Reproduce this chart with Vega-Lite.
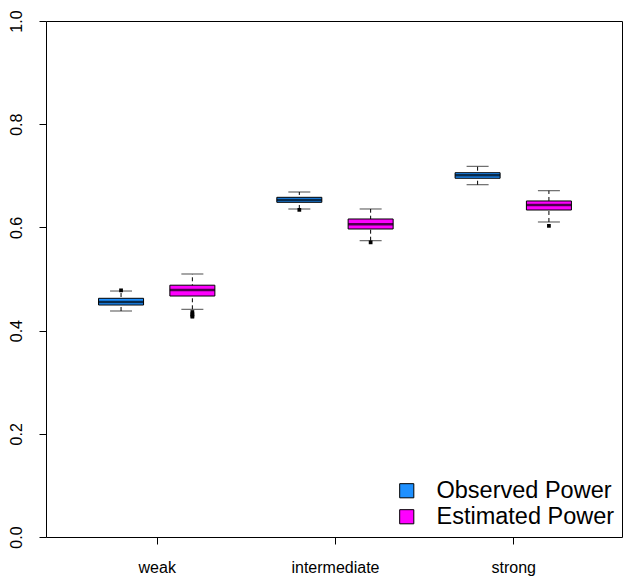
{
  "$schema": "https://vega.github.io/schema/vega-lite/v6.json",
  "width": 576,
  "height": 516,
  "autosize": "none",
  "padding": {"left": 46, "top": 21, "right": 1, "bottom": 40},
  "background": "white",
  "config": {
    "view": {"stroke": "black", "strokeWidth": 1},
    "font": "Liberation Sans",
    "axis": {"grid": false, "domainColor": "black", "tickColor": "black", "labelColor": "black", "labelFont": "Liberation Sans", "title": null}
  },
  "datasets": {
    "boxes": [
      {"group": "weak", "pos": 0.8, "series": "Observed Power", "lo": 0.438, "q1": 0.4496, "med": 0.4554, "q3": 0.4626, "hi": 0.4767},
      {"group": "weak", "pos": 1.2, "series": "Estimated Power", "lo": 0.4413, "q1": 0.467, "med": 0.4787, "q3": 0.488, "hi": 0.5097},
      {"group": "intermediate", "pos": 1.8, "series": "Observed Power", "lo": 0.6357, "q1": 0.6486, "med": 0.6531, "q3": 0.6583, "hi": 0.6686},
      {"group": "intermediate", "pos": 2.2, "series": "Estimated Power", "lo": 0.5742, "q1": 0.5969, "med": 0.606, "q3": 0.6163, "hi": 0.6357},
      {"group": "strong", "pos": 2.8, "series": "Observed Power", "lo": 0.6827, "q1": 0.6952, "med": 0.701, "q3": 0.706, "hi": 0.7184},
      {"group": "strong", "pos": 3.2, "series": "Estimated Power", "lo": 0.6105, "q1": 0.6337, "med": 0.6434, "q3": 0.6512, "hi": 0.6711}
    ],
    "outliers": [
      {"pos": 0.8, "value": 0.478},
      {"pos": 1.2, "value": 0.436},
      {"pos": 1.2, "value": 0.432},
      {"pos": 1.2, "value": 0.429},
      {"pos": 1.2, "value": 0.427},
      {"pos": 1.8, "value": 0.634},
      {"pos": 2.2, "value": 0.571},
      {"pos": 3.2, "value": 0.603}
    ]
  },
  "layer": [
    {
      "data": {"name": "boxes"},
      "mark": {"type": "rule", "color": "black", "strokeWidth": 1, "strokeDash": [4, 3]},
      "encoding": {
        "x": {"field": "pos", "type": "quantitative", "scale": {"domain": [0.379, 3.61], "nice": false, "zero": false, "padding": 0},
              "axis": {"values": [1, 2, 3], "labelExpr": "datum.value == 1 ? 'weak' : datum.value == 2 ? 'intermediate' : 'strong'", "tickSize": 7, "labelFontSize": 16, "labelPadding": 15, "domain": false}},
        "y": {"field": "lo", "type": "quantitative", "scale": {"domain": [0, 1], "nice": false, "zero": false, "padding": 0},
              "axis": {"values": [0, 0.2, 0.4, 0.6, 0.8, 1], "format": ".1f", "labelAngle": -90, "tickSize": 7, "labelFontSize": 16, "labelPadding": 15, "domain": false}},
        "y2": {"field": "hi"}
      }
    },
    {
      "data": {"name": "boxes"},
      "mark": {"type": "tick", "orient": "horizontal", "color": "black", "size": 22, "thickness": 1},
      "encoding": {
        "x": {"field": "pos", "type": "quantitative"},
        "y": {"field": "hi", "type": "quantitative"}
      }
    },
    {
      "data": {"name": "boxes"},
      "mark": {"type": "tick", "orient": "horizontal", "color": "black", "size": 22, "thickness": 1},
      "encoding": {
        "x": {"field": "pos", "type": "quantitative"},
        "y": {"field": "lo", "type": "quantitative"}
      }
    },
    {
      "data": {"name": "boxes"},
      "mark": {"type": "bar", "size": 45, "stroke": "black", "strokeWidth": 1},
      "encoding": {
        "x": {"field": "pos", "type": "quantitative"},
        "y": {"field": "q1", "type": "quantitative"},
        "y2": {"field": "q3"},
        "color": {"field": "series", "type": "nominal",
                  "scale": {"domain": ["Observed Power", "Estimated Power"], "range": ["#1E90FF", "#FF00FF"]},
                  "legend": {"title": null, "orient": "none", "legendX": 349, "legendY": 458, "symbolType": "square", "symbolSize": 200, "symbolStrokeColor": "black", "symbolStrokeWidth": 1, "symbolOpacity": 1, "labelFontSize": 23.5, "labelFont": "Liberation Sans", "labelColor": "black", "labelOffset": 18, "labelLimit": 0, "rowPadding": 1, "padding": 0}}
      }
    },
    {
      "data": {"name": "boxes"},
      "mark": {"type": "tick", "orient": "horizontal", "color": "black", "size": 45, "thickness": 2.5},
      "encoding": {
        "x": {"field": "pos", "type": "quantitative"},
        "y": {"field": "med", "type": "quantitative"}
      }
    },
    {
      "data": {"name": "outliers"},
      "mark": {"type": "square", "filled": true, "color": "black", "size": 14, "opacity": 1},
      "encoding": {
        "x": {"field": "pos", "type": "quantitative"},
        "y": {"field": "value", "type": "quantitative"}
      }
    }
  ]
}
